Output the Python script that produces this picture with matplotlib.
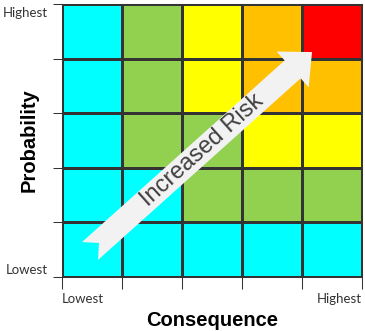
import matplotlib
matplotlib.use('Agg')
import matplotlib.pyplot as plt
import numpy as np
from matplotlib.colors import ListedColormap
from matplotlib.patches import Polygon
from matplotlib.transforms import IdentityTransform

# risk level of each cell, top row (highest probability) first
risk_levels = [
    [0, 1, 2, 3, 4],
    [0, 1, 2, 3, 3],
    [0, 1, 1, 2, 2],
    [0, 0, 1, 1, 1],
    [0, 0, 0, 0, 0],
]
level_colors = ['#00FFFF', '#92D050', '#FFFF00', '#FFC000', '#FF0000']
low_label = 'Lowest'
high_label = 'Highest'
x_title = 'Consequence'
y_title = 'Probability'
arrow_text = 'Increased Risk'

# arrow from tail centre to tip, in cell units
arrow_tail = (0.467, 0.476)
arrow_tip = (4.167, 4.12)

line_col = '#333333'
label_col = '#333333'

fig = plt.figure(figsize=(3.65, 3.31), dpi=100)
ax = fig.add_axes([62 / 365, 54 / 331, 300 / 365, 273 / 331])

grid = np.flipud(np.array(risk_levels))
ax.pcolormesh(np.arange(6), np.arange(6), grid, cmap=ListedColormap(level_colors),
              vmin=-0.5, vmax=4.5, edgecolors=line_col, linewidth=0.75)
ax.set_xlim(0, 5)
ax.set_ylim(0, 5)
for s in ax.spines.values():
    s.set_color(line_col)
    s.set_linewidth(0.75)

ax.set_xticks(range(6))
ax.set_yticks(range(6))
ax.tick_params(axis='x', length=8.6, width=0.75, color=line_col, labelbottom=False)
ax.tick_params(axis='y', length=6.5, width=0.75, color=line_col, labelleft=False)

tick_font = dict(family='Lato', size=9.5, color=label_col)
ax.text(-0.047, 0.967, high_label, transform=ax.transAxes, ha='right', va='center', **tick_font)
ax.text(-0.047, 0.026, low_label, transform=ax.transAxes, ha='right', va='center', **tick_font)
ax.text(0.0, -0.08, low_label, transform=ax.transAxes, ha='left', va='center', **tick_font)
ax.text(1.0, -0.08, high_label, transform=ax.transAxes, ha='right', va='center', **tick_font)

title_font = dict(family='Liberation Sans', size=14.5, weight='bold', color='black')
fig.text(212 / 365, 5 / 331, x_title, ha='center', va='baseline', **title_font)
fig.text(34.5 / 365, 190.5 / 331, y_title, ha='center', va='baseline', rotation=90,
         rotation_mode='anchor', **title_font)

# notched arrow, built in pixel space so the angles stay true
fig.canvas.draw()
p0 = ax.transData.transform(arrow_tail)
p1 = ax.transData.transform(arrow_tip)
length = np.hypot(*(p1 - p0))
u = (p1 - p0) / length
n = np.array([-u[1], u[0]])
half_shaft, half_head, head_len, notch = 12, 24, 26, 12
base = p1 - head_len * u
pts = [p0 + half_shaft * n, base + half_shaft * n, base + half_head * n, p1,
       base - half_head * n, base - half_shaft * n, p0 - half_shaft * n, p0 + notch * u]
fig.patches.append(Polygon(pts, closed=True, facecolor='#F2F2F2', edgecolor='none',
                           transform=IdentityTransform(), figure=fig, zorder=5))

angle = np.degrees(np.arctan2(u[1], u[0]))
mid = p0 + 0.505 * (p1 - p0)
fig.text(mid[0] / fig.bbox.width, mid[1] / fig.bbox.height, arrow_text, rotation=angle,
         rotation_mode='anchor', ha='center', va='center', family='Liberation Sans',
         size=17, color='#404040', zorder=6)

fig.savefig('out.png', dpi=100)
